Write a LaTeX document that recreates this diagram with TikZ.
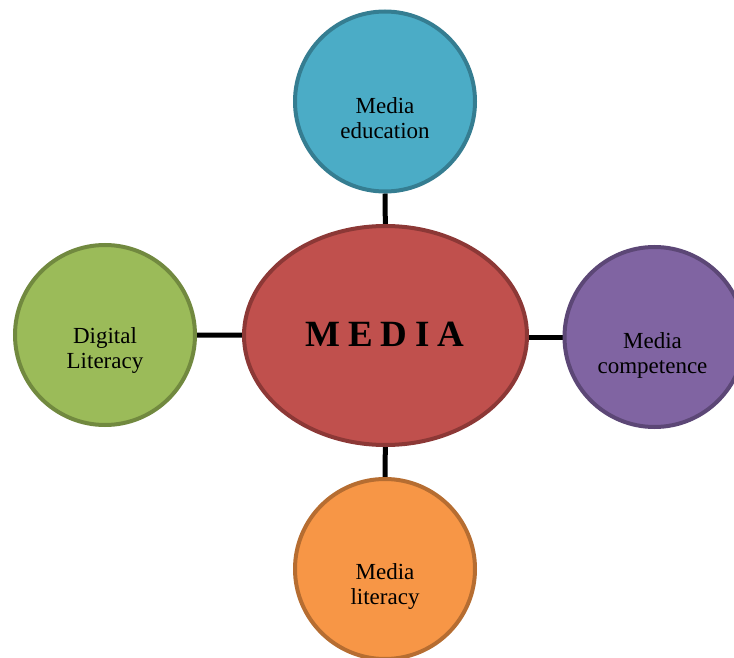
\documentclass[tikz,border=0pt]{standalone}
\usepackage{fontspec}
\setmainfont{Liberation Serif}
\usetikzlibrary{shapes.geometric,backgrounds}
\definecolor{redF}{HTML}{C0504D}\definecolor{redB}{HTML}{8C3836}
\definecolor{blueF}{HTML}{4BACC6}\definecolor{blueB}{HTML}{357D91}
\definecolor{purF}{HTML}{8064A2}\definecolor{purB}{HTML}{5C4776}
\definecolor{oraF}{HTML}{F79646}\definecolor{oraB}{HTML}{B66D31}
\definecolor{grnF}{HTML}{9BBB59}\definecolor{grnB}{HTML}{71893F}
\tikzset{
  bubble/.style={circle, minimum size=180pt, inner sep=0pt, line width=4pt},
  hub/.style={ellipse, minimum width=283pt, minimum height=219pt, inner sep=0pt, line width=4pt, draw=redB, fill=redF},
  lbl/.style={align=center, font=\fontsize{23}{25}\selectfont, text=black, inner sep=0pt},
  link/.style={line width=5pt, black}
}
\begin{document}
\begin{tikzpicture}[x=1pt,y=-1pt]
\useasboundingbox (0,0) rectangle (734,658);
\clip (0,0) rectangle (734,658);
\node[hub] (c) at (385.5,335.5) {};
\node[bubble, draw=blueB, fill=blueF] (t) at (385,101.5) {};
\node[bubble, draw=purB, fill=purF] (r) at (654.5,337) {};
\node[bubble, draw=oraB, fill=oraF] (b) at (385,569) {};
\node[bubble, draw=grnB, fill=grnF] (l) at (105,335) {};
\begin{scope}[on background layer]
\draw[link] (t) -- (c);
\draw[link] (c) -- (b);
\draw[link] (l) -- (c);
\draw[link] (r.center) -- (r.center -| c.center);
\end{scope}
\node[font=\bfseries\fontsize{37}{40}\selectfont, inner sep=0pt] (ct) at (385,334) {M\kern8pt E\kern8pt D\kern8pt I\kern8pt A};
\node[lbl] (tt) at (385,118.5) {Media\\education};
\node[lbl] (rt) at (652.5,355.5) {Media\\competence};
\node[lbl] (bt) at (385,586) {Media\\literacy};
\node[lbl] (lt) at (105,351) {Digital\\Literacy};
\end{tikzpicture}
\end{document}
